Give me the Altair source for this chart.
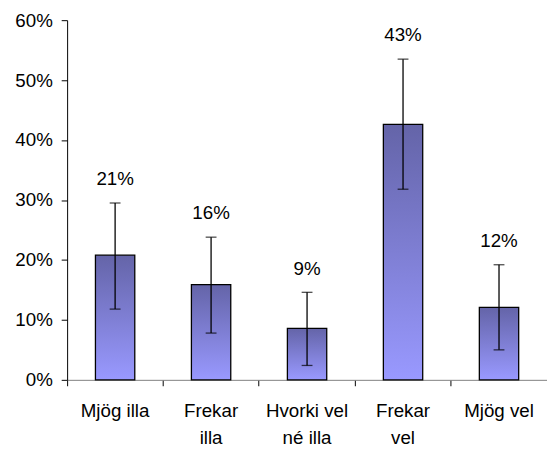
import altair as alt
import pandas as pd

categories = ["Mjög illa", "Frekar|illa", "Hvorki vel|né illa", "Frekar|vel", "Mjög vel"]
values = [0.208, 0.159, 0.086, 0.426, 0.121]
err_low = [0.118, 0.078, 0.024, 0.318, 0.050]
err_high = [0.295, 0.238, 0.146, 0.535, 0.192]
labels = ["21%", "16%", "9%", "43%", "12%"]

df = pd.DataFrame({
    "cat": categories,
    "val": values,
    "lo": err_low,
    "hi": err_high,
    "lab": labels,
})

FONT = "Liberation Sans"
FS = 19

xscale = alt.Scale(paddingInner=0.59, paddingOuter=0.295)
yscale = alt.Scale(domain=[0, 0.6], nice=False)

x_lab = alt.X("cat:N", sort=categories, scale=xscale, title=None,
              axis=alt.Axis(labelAngle=0, ticks=True, tickSize=6, tickColor="black",
                            bandPosition=-0.7175,
                            domain=True, domainColor="#808080",
                            labelExpr="split(datum.label, '|')", labelFont=FONT,
                            labelFontSize=FS, labelColor="black", labelPadding=16,
                            labelLineHeight=28, grid=False))
y = alt.Y("val:Q", scale=yscale, title=None,
          axis=alt.Axis(format=".0%", values=[0, 0.1, 0.2, 0.3, 0.4, 0.5, 0.6],
                        labelFont=FONT, labelFontSize=FS, labelColor="black",
                        tickSize=6, tickColor="black", domainColor="black",
                        labelPadding=9, grid=False))

grad = alt.Gradient(gradient="linear",
                    stops=[alt.GradientStop(color="#6464a8", offset=0),
                           alt.GradientStop(color="#9999ff", offset=1)],
                    x1=0, x2=0, y1=0, y2=1)

base = alt.Chart(df)
xc = alt.X("cat:N", sort=categories, scale=xscale)

bars = base.mark_bar(color=grad, stroke="black", strokeWidth=1.3).encode(x=x_lab, y=y)
rules = base.mark_rule(color="black", strokeWidth=1.3).encode(x=xc, y="lo:Q", y2="hi:Q")
caps_hi = base.mark_tick(color="black", orient="horizontal", size=11, thickness=1.3).encode(x=xc, y="hi:Q")
caps_lo = base.mark_tick(color="black", orient="horizontal", size=11, thickness=1.3).encode(x=xc, y="lo:Q")
texts = base.mark_text(font=FONT, fontSize=FS, color="black", dy=-24, baseline="middle").encode(
    x=xc, y="hi:Q", text="lab:N")

chart = alt.layer(bars, rules, caps_hi, caps_lo, texts).properties(
    width=487, height=365,
    autosize=alt.AutoSizeParams(type="none"),
    padding={"left": 60, "top": 9, "right": 0, "bottom": 78},
).configure_view(stroke=None).configure_axis(grid=False)

chart.save("out.html", embed_options={"renderer": "svg", "actions": False})
